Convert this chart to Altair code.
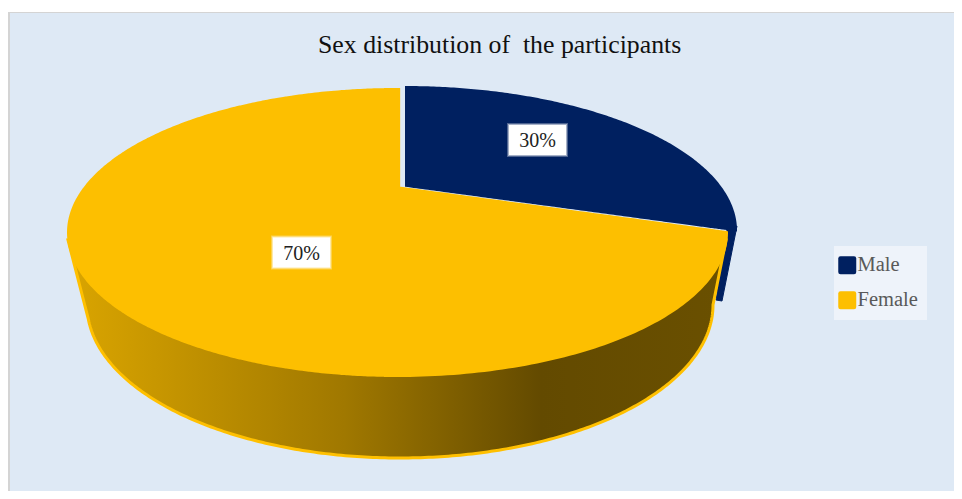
import numpy as np
import pandas as pd
import altair as alt

# ---- data ----
categories = ["Male", "Female"]
shares = [30, 70]
labels = ["30%", "70%"]
label_x = [537.5, 301.5]
label_y = [140, 252.5]
colors = ["#002060", "#FDBF00"]
title = "Sex distribution of \u00a0the participants"

W, H = 946, 483
SERIF = "Liberation Serif"

# ---- perspective pie geometry, driven by the shares ----
def rim(theta_deg, cx, cy, rx, ry, c):
    t = np.radians(theta_deg)
    u, v = np.sin(t), np.cos(t)
    d = 1 + c * v
    return cx + rx * u * np.sqrt(1 - c * c) / d, cy - ry * (v + c) / d

def band(upper, lower):
    ux, uy = map(np.array, zip(*upper))
    lx, ly = map(np.array, zip(*lower))
    xs = np.unique(np.concatenate([ux, lx]))
    xs = xs[(xs >= max(ux.min(), lx.min())) & (xs <= min(ux.max(), lx.max()))]
    return pd.DataFrame({"x": xs, "y": np.interp(xs, ux, uy), "y2": np.interp(xs, lx, ly)})

boundary = 360 * shares[0] / sum(shares)

# Male top face
m = dict(cx=405, cy=230.5, rx=332, ry=144.5, c=0.303)
th = np.linspace(0, boundary, 160)
mx, my = rim(th, **m)
k = int(np.argmax(mx))
apex_m = (m["cx"], m["cy"] - m["ry"] * m["c"])
male_up = list(zip(mx[:k + 1], my[:k + 1]))
male_low = [apex_m, (mx[-1], my[-1])] + list(zip(mx[:k:-1], my[:k:-1]))
male_low = sorted(set(male_low))
male_df = band(male_up, male_low)
male_df["cat"] = categories[0]

# Female top face
f = dict(cx=397.5, cy=232.5, rx=330.5, ry=144.5, c=0.317)
th = np.linspace(boundary, 360.64, 320)
fx, fy = rim(th, **f)
k = int(np.argmin(fx))
apex_f = (fx[-1] + 0.01, f["cy"] - f["ry"] * f["c"])
fem_low = list(zip(fx[k::-1], fy[k::-1]))
fem_up = list(zip(fx[k:], fy[k:])) + [apex_f, (fx[0], fy[0])]
fem_df = band(fem_up, fem_low)
fem_df["cat"] = categories[1]

# Female side wall
t = np.linspace(-np.pi * 0.97, 0, 240)
bx = 400 + 313 * np.cos(t + np.pi) * -1
by = 305 + 153 * np.abs(np.sin(t))
base = sorted(zip(bx, by))
wall_low = [(68, 240)] + base + [(726, 240)]
wall_df = band([(68, 240), (726, 240)], wall_low)

# Male side wall
mwall_df = band([(716, 300), (727, 230), (737, 226)], [(716, 300), (722, 301), (737, 226)])

frame = pd.DataFrame({"x": [8, 10, 834], "x2": [8 + W, 8 + W, 927], "y": [12, 13, 246], "y2": [8 + H, 8 + H, 320],
                      "fill": ["#D4D4D4", "#DEE9F5", "#EEF3FA"]})
lab_df = pd.DataFrame({"x": label_x, "y": label_y, "t": labels})

X = alt.X("x:Q", scale=alt.Scale(domain=[8, 8 + W], range=[0, W], nice=False, zero=False), axis=None)
Y = alt.Y("y:Q", scale=alt.Scale(domain=[8, 8 + H], range=[0, H], nice=False, zero=False), axis=None)

bg = alt.Chart(frame).mark_rect().encode(x=X, x2="x2:Q", y=Y, y2="y2:Q",
                                         fill=alt.Fill("fill:N", scale=None))

mwall = alt.Chart(mwall_df).mark_area(color="#002060", stroke="#002060", strokeWidth=1).encode(
    x=X, y=Y, y2="y2:Q")

gold = alt.Gradient(gradient="linear", x1=0, x2=1, y1=0, y2=0, stops=[
    alt.GradientStop(color="#DAA500", offset=0),
    alt.GradientStop(color="#A07800", offset=0.42),
    alt.GradientStop(color="#634A00", offset=0.72),
    alt.GradientStop(color="#6A5000", offset=1),
])
wall = alt.Chart(wall_df).mark_area(color=gold, stroke="#FFC000", strokeWidth=3).encode(
    x=X, y=Y, y2="y2:Q")

color = alt.Color("cat:N",
    scale=alt.Scale(domain=categories, range=colors),
    legend=alt.Legend(
        title=None, orient="none", legendX=829, legendY=247,
        padding=0,
        symbolType="M-0.75,-1H0.75Q1,-1 1,-0.75V0.75Q1,1 0.75,1H-0.75Q-1,1 -1,0.75V-0.75Q-1,-1 -0.75,-1Z",
        symbolSize=324, symbolStrokeWidth=0, symbolOpacity=1,
        labelFont=SERIF, labelFontSize=20.5, labelColor="#595959", labelOffset=0,
        rowPadding=14, labelLimit=120))

male_top = alt.Chart(male_df).mark_area().encode(x=X, y=Y, y2="y2:Q", color=color)
fem_top = alt.Chart(fem_df).mark_area().encode(x=X, y=Y, y2="y2:Q", color=color)

soft1 = alt.Chart(lab_df).mark_rect(width=61, height=34, color="white", opacity=0.3).encode(x=X, y=Y)
soft2 = alt.Chart(lab_df).mark_rect(width=59, height=32, color="white", opacity=0.5).encode(x=X, y=Y)
box = alt.Chart(lab_df).mark_rect(width=57, height=30, color="white").encode(x=X, y=Y)
text = alt.Chart(lab_df).mark_text(font=SERIF, fontSize=20, color="#222222", dy=1).encode(x=X, y=Y, text="t:N")

chart = alt.layer(bg, mwall, wall, male_top, fem_top, soft1, soft2, box, text).properties(
    width=W, height=H,
    padding=0,
    autosize=alt.AutoSizeParams(type="none"),
    background="white",
    title=alt.Title(title, font=SERIF, fontSize=25.8, fontWeight="normal", color="#111111",
                    anchor="start", frame="group", dx=310, dy=51, offset=0),
).configure_view(stroke=None)

chart.save("out.html", embed_options={"renderer": "svg", "actions": False})
